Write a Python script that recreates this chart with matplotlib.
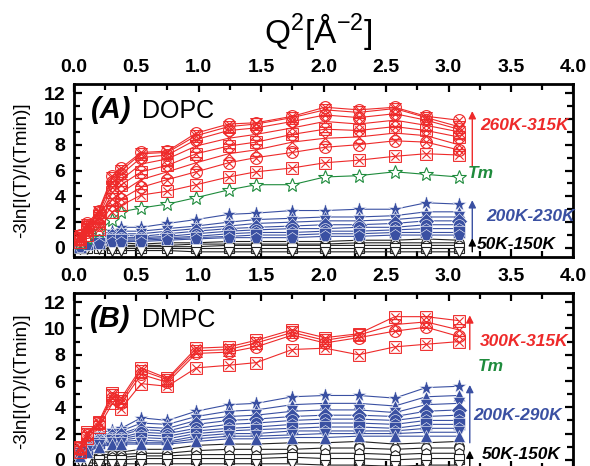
import numpy as np
import matplotlib
matplotlib.use("Agg")
from matplotlib import pyplot as plt
from matplotlib.path import Path
from matplotlib.ticker import MultipleLocator

plt.rcParams['font.family'] = ['Liberation Sans', 'DejaVu Sans']
plt.rcParams['mathtext.fontset'] = 'custom'
plt.rcParams['mathtext.rm'] = 'Liberation Sans'
plt.rcParams['mathtext.default'] = 'regular'

RED, BLUE, GREEN, BLACK = '#EE2A2A', '#3A50A2', '#1E8B3C', '#222222'

# Q^2 values (A^-2)
q2 = [0.05, 0.11, 0.2, 0.31, 0.38, 0.54, 0.75, 0.98, 1.24, 1.46, 1.75, 2.01, 2.28, 2.57, 2.82, 3.08]

# (A) DOPC
dopc_red = [
    [0.5, 1.0, 1.5, 2.8, 3.3, 4.1, 4.4, 4.9, 5.5, 5.9, 6.2, 6.6, 6.8, 7.1, 7.3, 7.2],
    [0.6, 1.2, 1.8, 3.3, 3.8, 4.7, 5.3, 5.9, 6.6, 7.0, 7.4, 7.8, 8.0, 8.3, 8.2, 7.6],
    [0.7, 1.4, 2.1, 3.8, 4.3, 5.3, 5.9, 6.6, 7.3, 7.6, 8.2, 8.5, 8.6, 8.9, 8.7, 8.0],
    [0.8, 1.5, 2.3, 4.3, 4.9, 5.9, 6.4, 7.3, 7.9, 8.2, 8.8, 9.2, 9.1, 9.4, 9.1, 8.6],
    [0.8, 1.6, 2.5, 4.7, 5.3, 6.5, 6.9, 7.9, 8.5, 8.8, 9.3, 9.8, 9.6, 9.9, 9.5, 9.0],
    [0.9, 1.7, 2.7, 5.1, 5.7, 7.0, 7.2, 8.4, 9.1, 9.3, 9.8, 10.3, 10.1, 10.4, 9.9, 9.2],
    [0.9, 1.8, 2.8, 5.4, 6.0, 7.3, 7.4, 8.7, 9.4, 9.6, 10.1, 10.7, 10.5, 10.8, 10.1, 9.4],
    [1.0, 1.9, 2.9, 5.6, 6.2, 7.4, 7.5, 8.9, 9.6, 9.7, 10.2, 10.9, 10.7, 10.9, 10.2, 9.9],
]
dopc_tm = [0.4, 0.8, 1.3, 2.2, 2.8, 3.1, 3.4, 3.9, 4.5, 4.9, 4.9, 5.5, 5.6, 5.9, 5.7, 5.5]
dopc_blue = [
    [0.4, 0.7, 1.0, 1.3, 1.6, 1.6, 1.9, 2.2, 2.6, 2.7, 2.9, 2.9, 3.0, 3.0, 3.5, 3.4],
    [0.3, 0.6, 0.9, 1.1, 1.3, 1.3, 1.5, 1.7, 2.0, 2.2, 2.3, 2.4, 2.4, 2.5, 2.8, 2.8],
    [0.3, 0.5, 0.8, 1.0, 1.1, 1.1, 1.3, 1.5, 1.7, 1.9, 2.0, 2.1, 2.1, 2.2, 2.4, 2.4],
    [0.2, 0.4, 0.7, 0.9, 1.0, 0.9, 1.1, 1.3, 1.5, 1.6, 1.7, 1.8, 1.8, 1.9, 2.1, 2.1],
    [0.2, 0.4, 0.6, 0.8, 0.8, 0.8, 0.9, 1.1, 1.3, 1.4, 1.5, 1.5, 1.6, 1.6, 1.8, 1.8],
    [0.1, 0.3, 0.5, 0.7, 0.7, 0.7, 0.8, 0.9, 1.1, 1.2, 1.2, 1.3, 1.3, 1.4, 1.5, 1.5],
    [0.1, 0.3, 0.4, 0.6, 0.6, 0.6, 0.7, 0.8, 0.9, 1.0, 1.0, 1.1, 1.1, 1.2, 1.2, 1.2],
    [0.1, 0.2, 0.3, 0.5, 0.5, 0.5, 0.6, 0.7, 0.8, 0.8, 0.8, 0.9, 0.9, 1.0, 1.0, 1.0],
]
dopc_black = [
    [0.1, 0.2, 0.3, 0.4, 0.4, 0.3, 0.4, 0.4, 0.5, 0.5, 0.5, 0.5, 0.6, 0.6, 0.7, 0.6],
    [0.0, 0.1, 0.2, 0.2, 0.2, 0.2, 0.2, 0.3, 0.3, 0.3, 0.3, 0.3, 0.4, 0.4, 0.4, 0.4],
    [0.0, 0.0, 0.1, 0.1, 0.1, 0.1, 0.1, 0.1, 0.2, 0.2, 0.2, 0.2, 0.2, 0.2, 0.2, 0.2],
    [0.0, 0.0, 0.0, 0.0, 0.0, 0.0, 0.0, 0.0, 0.0, 0.0, 0.0, 0.0, 0.0, 0.0, 0.0, 0.0],
    [-0.1, -0.1, -0.1, -0.2, -0.2, -0.2, -0.2, -0.3, -0.3, -0.3, -0.3, -0.3, -0.3, -0.3, -0.3, -0.3],
]

# (B) DMPC
dmpc_red = [
    [0.6, 1.7, 2.5, 4.3, 3.9, 5.8, 5.6, 7.0, 7.2, 7.4, 8.4, 8.5, 8.0, 8.6, 8.8, 9.0],
    [0.8, 1.9, 2.7, 4.7, 4.3, 6.5, 5.9, 8.1, 8.2, 8.6, 9.5, 8.9, 9.3, 9.8, 10.1, 9.4],
    [0.9, 2.0, 2.8, 4.9, 4.5, 6.8, 6.1, 8.3, 8.4, 8.9, 9.7, 9.1, 9.5, 10.3, 10.5, 9.9],
    [1.0, 2.1, 2.9, 5.1, 4.7, 7.0, 6.2, 8.5, 8.6, 9.1, 9.9, 9.3, 9.6, 10.9, 10.9, 10.6],
]
dmpc_blue = [
    [0.8, 1.4, 2.0, 2.3, 2.4, 3.2, 3.0, 3.7, 4.2, 4.3, 4.8, 4.9, 4.9, 4.7, 5.5, 5.6],
    [0.7, 1.3, 1.8, 2.1, 2.2, 2.8, 2.7, 3.3, 3.7, 3.8, 4.2, 4.3, 4.3, 4.1, 4.8, 4.9],
    [0.7, 1.2, 1.7, 2.0, 2.0, 2.5, 2.4, 3.0, 3.3, 3.4, 3.7, 3.8, 3.8, 3.6, 4.2, 4.3],
    [0.6, 1.1, 1.6, 1.8, 1.9, 2.3, 2.2, 2.7, 3.0, 3.1, 3.3, 3.4, 3.4, 3.3, 3.7, 3.8],
    [0.6, 1.0, 1.5, 1.7, 1.7, 2.1, 2.0, 2.4, 2.7, 2.8, 3.0, 3.1, 3.1, 3.0, 3.3, 3.4],
    [0.5, 0.9, 1.4, 1.6, 1.6, 1.9, 1.8, 2.2, 2.4, 2.5, 2.7, 2.8, 2.8, 2.7, 3.0, 3.0],
    [0.5, 0.8, 1.3, 1.5, 1.5, 1.7, 1.6, 2.0, 2.2, 2.3, 2.4, 2.5, 2.5, 2.4, 2.7, 2.7],
    [0.4, 0.8, 1.2, 1.4, 1.4, 1.5, 1.4, 1.8, 2.0, 2.0, 2.2, 2.2, 2.2, 2.2, 2.4, 2.4],
    [0.4, 0.7, 1.1, 1.3, 1.3, 1.3, 1.3, 1.6, 1.8, 1.8, 1.9, 2.0, 2.0, 2.0, 2.1, 2.1],
    [0.3, 0.6, 1.0, 1.2, 1.2, 1.2, 1.2, 1.4, 1.6, 1.6, 1.7, 1.7, 1.8, 1.8, 1.8, 1.8],
]
dmpc_black = [
    [0.5, 0.5, 0.6, 0.6, 0.6, 0.8, 0.8, 1.1, 1.2, 1.2, 1.3, 1.3, 1.4, 1.2, 1.3, 1.4],
    [0.3, 0.3, 0.4, 0.4, 0.4, 0.5, 0.5, 0.7, 0.8, 0.8, 0.8, 0.9, 0.9, 0.8, 0.9, 0.9],
    [0.1, 0.1, 0.2, 0.2, 0.2, 0.3, 0.3, 0.4, 0.4, 0.4, 0.5, 0.5, 0.5, 0.4, 0.5, 0.5],
    [0.0, 0.0, 0.0, 0.0, 0.0, 0.1, 0.1, 0.1, 0.1, 0.1, 0.2, 0.1, 0.1, 0.0, 0.1, 0.1],
    [-0.2, -0.2, -0.3, -0.3, -0.3, -0.3, -0.3, -0.3, -0.3, -0.3, -0.3, -0.4, -0.4, -0.5, -0.4, -0.4],
]


# crossed open markers for the red (melted) curves
def crossed(outline):
    x = Path([(-0.7, -0.7), (0.7, 0.7), (-0.7, 0.7), (0.7, -0.7)],
             [Path.MOVETO, Path.LINETO, Path.MOVETO, Path.LINETO])
    return Path.make_compound_path(outline, x)


sq = Path([(-1, -1), (1, -1), (1, 1), (-1, 1), (-1, -1)],
          [Path.MOVETO, Path.LINETO, Path.LINETO, Path.LINETO, Path.CLOSEPOLY])
bow = Path([(-1, 1), (1, 1), (-1, -1), (1, -1), (-1, 1)],
           [Path.MOVETO, Path.LINETO, Path.LINETO, Path.LINETO, Path.CLOSEPOLY])
RED_MK = [crossed(sq), crossed(Path.unit_circle()), bow, crossed(sq),
          bow, crossed(Path.unit_circle()), bow, crossed(Path.unit_circle())]
BLUE_MK = ['*', '^', 'v', 'D', 'o', 'h', 's', 'p', 'v', '^']
BLACK_MK = ['^', 'o', 'h', 's', 'v']


def draw(ax, red, blue, black, tm=None):
    for i, ys in enumerate(black):
        ax.plot(q2, ys, color=BLACK, lw=0.8, marker=BLACK_MK[i % 5], ms=7,
                mfc='white', mec=BLACK, mew=0.8, zorder=2)
    for i, ys in enumerate(blue):
        ax.plot(q2, ys, color=BLUE, lw=0.8, marker=BLUE_MK[i % 10],
                ms=11 if BLUE_MK[i % 10] == '*' else 8.5,
                mfc=BLUE, mec='white', mew=0.4, zorder=3)
    if tm is not None:
        ax.plot(q2, tm, color=GREEN, lw=0.8, marker='*', ms=10,
                mfc='white', mec=GREEN, mew=0.8, zorder=4)
    for i, ys in enumerate(red):
        ax.plot(q2, ys, color=RED, lw=0.8, marker=RED_MK[i % 8], ms=8.5,
                mfc='none', mec=RED, mew=0.8, zorder=5)


def style(ax):
    ax.set_xlim(0, 4)
    ax.set_ylim(-0.7, 12.7)
    ax.xaxis.set_major_locator(MultipleLocator(0.5))
    ax.xaxis.set_minor_locator(MultipleLocator(0.25))
    ax.yaxis.set_major_locator(MultipleLocator(2))
    ax.yaxis.set_minor_locator(MultipleLocator(1))
    ax.tick_params(which='both', direction='in', top=True, right=True,
                   labeltop=True, labelbottom=False, width=1.6)
    ax.tick_params(which='major', length=6, labelsize=14, pad=6)
    ax.tick_params(which='minor', length=4)
    for lab in ax.get_xticklabels() + ax.get_yticklabels():
        lab.set_fontweight('bold')
    for s in ax.spines.values():
        s.set_linewidth(2)
    ax.set_ylabel('-3ln[I(T)/I(Tmin)]', fontsize=13.5)
    ax.yaxis.set_label_coords(-0.088, 0.5)


def arrow(ax, x, y0, y1, color):
    ax.annotate('', xy=(x, y1), xytext=(x, y0),
                arrowprops=dict(arrowstyle='-|>', color=color, lw=1,
                                mutation_scale=11, shrinkA=0, shrinkB=0))


def label(ax, x, y, s, color):
    ax.text(x, y, s, color=color, fontsize=12.5, fontweight='bold',
            style='italic', va='center', ha='left')


fig = plt.figure(figsize=(5.9, 4.66), dpi=100)
axA = fig.add_axes([0.125, 0.4485, 0.847, 0.3712])
axB = fig.add_axes([0.125, -0.0065, 0.847, 0.3777])

draw(axA, dopc_red, dopc_blue, dopc_black, dopc_tm)
draw(axB, dmpc_red, dmpc_blue, dmpc_black)
style(axA)
style(axB)

# panel A annotations
axA.text(0.14, 10.1, '(A)', fontsize=21, fontweight='bold', style='italic', va='baseline')
axA.text(0.55, 10.1, 'DOPC', fontsize=18, va='baseline')
arrow(axA, 3.19, 6.3, 10.6, RED)
label(axA, 3.25, 9.5, '260K-315K', RED)
label(axA, 3.15, 5.8, 'Tm', GREEN)
arrow(axA, 3.19, 0.45, 3.7, BLUE)
label(axA, 3.3, 2.4, '200K-230K', BLUE)
arrow(axA, 3.19, -0.3, 0.75, 'black')
label(axA, 3.23, 0.25, '50K-150K', 'black')

# panel B annotations
axB.text(0.13, 10.1, '(B)', fontsize=21, fontweight='bold', style='italic', va='baseline')
axB.text(0.55, 10.1, 'DMPC', fontsize=18, va='baseline')
arrow(axB, 3.17, 8.4, 11.0, RED)
label(axB, 3.25, 9.0, '300K-315K', RED)
label(axB, 3.23, 7.1, 'Tm', GREEN)
arrow(axB, 3.17, 1.3, 5.7, BLUE)
label(axB, 3.2, 3.4, '200K-290K', BLUE)
arrow(axB, 3.17, -0.5, 0.7, 'black')
label(axB, 3.27, 0.4, '50K-150K', 'black')

fig.text(0.54, 0.908, r'Q$^2$[Å$^{-2}$]', fontsize=24, ha='center', va='baseline')

plt.savefig('out.png', dpi=100)
